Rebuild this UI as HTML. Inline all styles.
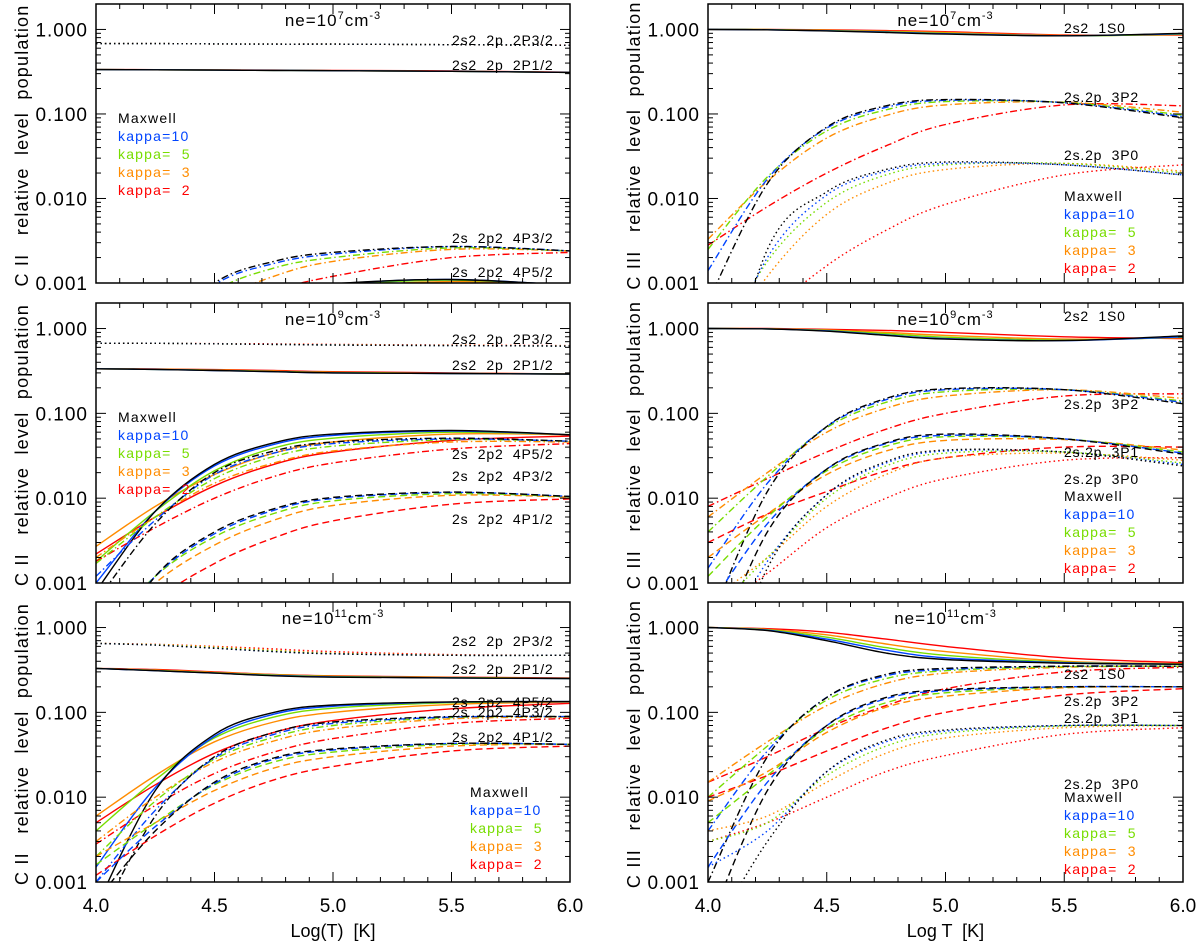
<!DOCTYPE html>
<html><head><meta charset="utf-8"><style>
body{margin:0;background:#fff}
svg{display:block;font-family:"Liberation Sans",sans-serif}
svg text{white-space:pre}
</style></head><body>
<svg id="fig" width="1200" height="942" viewBox="0 0 1200 942" xmlns="http://www.w3.org/2000/svg"></svg>
<script>
const logT = [4.0,4.25,4.5,4.75,5.0,5.5,6.0];
const seriesNames = ['Maxwell','kappa=10','kappa=  5','kappa=  3','kappa=  2'];
const yTickLabels = ['1.000','0.100','0.010','0.001'];
const yTickValues = [1,0.1,0.01,0.001];
const xTickLabels = ['4.0','4.5','5.0','5.5','6.0'];
const xTickValues = [4.0,4.5,5.0,5.5,6.0];

// values order: Maxwell, k10, k5, k3, k2
const p1_2P32 = [[0.68,0.68,0.675,0.67,0.67,0.66,0.65],[0.68,0.68,0.675,0.67,0.67,0.66,0.65],[0.68,0.68,0.675,0.67,0.67,0.66,0.65],[0.68,0.68,0.675,0.67,0.67,0.66,0.65],[0.68,0.68,0.675,0.67,0.67,0.66,0.652]];
const p1_2P12 = [[0.335,0.333,0.33,0.328,0.325,0.32,0.31],[0.335,0.333,0.33,0.328,0.325,0.32,0.31],[0.335,0.333,0.33,0.328,0.325,0.32,0.31],[0.335,0.333,0.33,0.328,0.325,0.32,0.31],[0.335,0.334,0.332,0.33,0.328,0.322,0.312]];
const p1_4P32 = [[1e-5,0.0002,0.001,0.0018,0.0023,0.0027,0.0024],[1e-5,0.0002,0.00095,0.0017,0.0022,0.0027,0.0024],[1e-5,0.0002,0.0008,0.0015,0.002,0.0026,0.0024],[1e-5,0.0002,0.0006,0.0012,0.0018,0.0025,0.0024],[1e-5,0.0001,0.0004,0.0008,0.0012,0.002,0.0023]];
const p1_4P52 = [[1e-5,1e-4,4e-4,8e-4,0.00098,0.0011,0.00094],[1e-5,1e-4,4e-4,7.8e-4,0.00097,0.0011,0.00094],[1e-5,1e-4,3.8e-4,7.4e-4,0.00094,0.00108,0.00094],[1e-5,1e-4,3.4e-4,6.6e-4,0.00088,0.00104,0.00095],[1e-5,1e-4,3e-4,5e-4,0.0007,0.00095,0.00095]];

const p2_2P32 = [[0.67,0.67,0.66,0.65,0.64,0.63,0.62],[0.67,0.67,0.66,0.65,0.64,0.63,0.62],[0.67,0.67,0.66,0.65,0.64,0.63,0.62],[0.67,0.67,0.66,0.65,0.645,0.635,0.625],[0.67,0.67,0.665,0.66,0.65,0.64,0.63]];
const p2_2P12 = [[0.335,0.33,0.32,0.31,0.3,0.295,0.29],[0.335,0.33,0.32,0.31,0.3,0.295,0.29],[0.335,0.33,0.322,0.312,0.302,0.296,0.29],[0.335,0.332,0.325,0.315,0.305,0.297,0.291],[0.335,0.333,0.328,0.32,0.31,0.3,0.292]];
const p2_4P52 = [[0.0008,0.007,0.025,0.045,0.057,0.063,0.056],[0.001,0.007,0.024,0.043,0.055,0.062,0.056],[0.0018,0.007,0.021,0.039,0.051,0.06,0.056],[0.0027,0.008,0.019,0.034,0.046,0.057,0.056],[0.0022,0.006,0.014,0.025,0.035,0.048,0.054]];
const p2_4P32 = [[0.0006,0.005,0.02,0.036,0.046,0.051,0.047],[0.0012,0.0055,0.019,0.034,0.044,0.05,0.047],[0.0017,0.006,0.017,0.031,0.041,0.049,0.047],[0.002,0.006,0.015,0.026,0.036,0.046,0.046],[0.0018,0.0045,0.01,0.018,0.026,0.038,0.044]];
const p2_4P12 = [[1e-4,0.0012,0.004,0.0075,0.0102,0.0118,0.0105],[1.5e-4,0.0012,0.0038,0.0072,0.0099,0.0117,0.0105],[2e-4,0.0012,0.0035,0.0066,0.0093,0.0113,0.0104],[2e-4,0.001,0.0028,0.0055,0.0082,0.0108,0.0103],[1e-4,0.0006,0.0017,0.0034,0.0054,0.0085,0.0098]];

const p3_2P32 = [[0.65,0.62,0.57,0.52,0.49,0.47,0.47],[0.65,0.62,0.57,0.52,0.49,0.47,0.47],[0.65,0.625,0.58,0.53,0.495,0.47,0.47],[0.65,0.63,0.59,0.54,0.5,0.475,0.47],[0.65,0.635,0.6,0.56,0.52,0.48,0.47]];
const p3_2P12 = [[0.33,0.31,0.29,0.27,0.26,0.255,0.25],[0.33,0.31,0.29,0.272,0.262,0.255,0.25],[0.33,0.312,0.293,0.275,0.264,0.256,0.251],[0.33,0.315,0.296,0.278,0.267,0.258,0.252],[0.33,0.32,0.3,0.28,0.27,0.26,0.255]];
const p3_4P52 = [[0.0005,0.012,0.055,0.1,0.122,0.133,0.134],[0.0015,0.013,0.052,0.095,0.118,0.132,0.134],[0.004,0.016,0.05,0.088,0.112,0.13,0.134],[0.006,0.018,0.045,0.077,0.1,0.124,0.132],[0.005,0.014,0.033,0.058,0.08,0.11,0.128]];
const p3_4P32 = [[0.0003,0.006,0.03,0.058,0.077,0.089,0.089],[0.001,0.007,0.029,0.055,0.074,0.088,0.089],[0.002,0.009,0.028,0.051,0.07,0.087,0.089],[0.003,0.01,0.026,0.046,0.064,0.084,0.088],[0.0028,0.008,0.019,0.034,0.049,0.074,0.085]];
const p3_4P12 = [[0.0006,0.004,0.015,0.029,0.037,0.043,0.042],[0.001,0.0045,0.0145,0.028,0.036,0.043,0.042],[0.0016,0.005,0.014,0.026,0.034,0.042,0.042],[0.002,0.005,0.012,0.022,0.03,0.04,0.042],[0.0012,0.0035,0.0085,0.016,0.023,0.035,0.04]];

const p4_1S0 = [[1.0,0.99,0.96,0.92,0.88,0.84,0.9],[1,0.99,0.965,0.93,0.89,0.84,0.89],[1,0.995,0.97,0.94,0.9,0.84,0.88],[1,0.995,0.98,0.95,0.92,0.85,0.87],[1,1,0.99,0.97,0.94,0.86,0.86]];
const p4_3P2 = [[0.0006,0.015,0.07,0.125,0.148,0.135,0.09],[0.0014,0.017,0.068,0.12,0.145,0.136,0.093],[0.0025,0.018,0.063,0.112,0.14,0.137,0.097],[0.0033,0.016,0.052,0.096,0.128,0.138,0.105],[0.0028,0.008,0.02,0.042,0.075,0.128,0.125]];
const p4_3P0 = [[1e-5,0.0025,0.012,0.022,0.027,0.025,0.019],[5e-5,0.002,0.011,0.021,0.026,0.025,0.019],[1e-4,0.0018,0.009,0.019,0.025,0.026,0.02],[1e-4,0.0012,0.0065,0.015,0.022,0.026,0.021],[5e-5,0.0004,0.0016,0.0042,0.0085,0.019,0.025]];

const p5_1S0 = [[1,0.99,0.93,0.83,0.75,0.72,0.82],[1,0.99,0.94,0.84,0.76,0.72,0.8],[1,0.99,0.95,0.87,0.79,0.73,0.79],[1,0.995,0.96,0.9,0.83,0.75,0.78],[1,1,0.98,0.95,0.9,0.8,0.76]];
const p5_3P2 = [[0.0003,0.012,0.07,0.15,0.195,0.19,0.13],[0.0015,0.015,0.07,0.145,0.19,0.19,0.135],[0.004,0.018,0.068,0.135,0.18,0.19,0.14],[0.006,0.02,0.06,0.115,0.16,0.19,0.15],[0.008,0.017,0.035,0.065,0.1,0.16,0.17]];
const p5_3P1 = [[1e-4,0.004,0.022,0.045,0.057,0.05,0.033],[5e-4,0.005,0.022,0.044,0.055,0.05,0.034],[0.0012,0.006,0.021,0.041,0.053,0.05,0.035],[0.002,0.0065,0.019,0.036,0.048,0.049,0.037],[0.003,0.0065,0.012,0.021,0.03,0.04,0.04]];
const p5_3P0 = [[2e-5,0.0015,0.011,0.027,0.037,0.035,0.024],[1e-4,0.0018,0.011,0.026,0.036,0.035,0.025],[4e-4,0.002,0.01,0.024,0.034,0.035,0.026],[6e-4,0.002,0.008,0.019,0.03,0.034,0.028],[4e-4,0.0013,0.0045,0.01,0.017,0.028,0.03]];

const p6_1S0 = [[1,0.92,0.7,0.5,0.42,0.38,0.37],[1,0.93,0.73,0.54,0.44,0.385,0.37],[1,0.94,0.77,0.58,0.47,0.39,0.37],[1,0.95,0.82,0.64,0.52,0.4,0.375],[1,0.97,0.88,0.73,0.6,0.44,0.385]];
const p6_3P2 = [[0.001,0.03,0.15,0.28,0.33,0.35,0.35],[0.004,0.035,0.15,0.27,0.32,0.35,0.35],[0.01,0.04,0.14,0.25,0.31,0.345,0.35],[0.015,0.045,0.12,0.22,0.29,0.34,0.35],[0.015,0.03,0.065,0.12,0.19,0.3,0.34]];
const p6_3P1 = [[3e-4,0.012,0.07,0.15,0.185,0.2,0.2],[0.0015,0.015,0.07,0.145,0.18,0.2,0.2],[0.005,0.018,0.065,0.13,0.17,0.198,0.2],[0.009,0.02,0.058,0.115,0.155,0.195,0.2],[0.01,0.018,0.035,0.065,0.1,0.16,0.19]];
const p6_3P0 = [[2e-4,0.003,0.02,0.047,0.062,0.07,0.07],[0.0015,0.004,0.02,0.045,0.06,0.07,0.07],[0.003,0.005,0.018,0.04,0.057,0.069,0.07],[0.004,0.006,0.015,0.033,0.05,0.066,0.07],[0.003,0.005,0.01,0.02,0.031,0.055,0.066]];

const COLORS = ['#000000','#0044ff','#77dd00','#ff8c00','#ff0000'];
const DASH = {solid:'', dashed:'7,4', dashdot:'7,3,1.5,3', dotted:'1.5,3'};
const NS = 'http://www.w3.org/2000/svg';
const svg = document.getElementById('fig');
function mk(tag, attrs, parent){const e=document.createElementNS(NS,tag);for(const k in attrs)e.setAttribute(k,attrs[k]);(parent||svg).appendChild(e);return e;}

const YMAX = 2, YMIN = 0.001;
const panels = [
 {id:'cii-1e7', x:96,y:4,w:474,h:279, ion:'C II', exp:'7', curves:[['2P3/2',p1_2P32,'dotted'],['2P1/2',p1_2P12,'solid'],['4P3/2',p1_4P32,'dashdot'],['4P5/2',p1_4P52,'solid']],
  labels:[['2s2  2p  2P3/2',452,45],['2s2  2p  2P1/2',452,70],['2s  2p2  4P3/2',452,243],['2s  2p2  4P5/2',452,277]], legend:[118,118]},
 {id:'cii-1e9', x:96,y:303,w:474,h:280, ion:'C II', exp:'9', curves:[['2P3/2',p2_2P32,'dotted'],['2P1/2',p2_2P12,'solid'],['4P5/2',p2_4P52,'solid'],['4P3/2',p2_4P32,'dashdot'],['4P1/2',p2_4P12,'dashed']],
  labels:[['2s2  2p  2P3/2',452,344],['2s2  2p  2P1/2',452,370],['2s  2p2  4P5/2',452,459],['2s  2p2  4P3/2',452,481],['2s  2p2  4P1/2',452,524]], legend:[118,417]},
 {id:'cii-1e11', x:96,y:602,w:474,h:280, ion:'C II', exp:'11', curves:[['2P3/2',p3_2P32,'dotted'],['2P1/2',p3_2P12,'solid'],['4P5/2',p3_4P52,'solid'],['4P3/2',p3_4P32,'dashdot'],['4P1/2',p3_4P12,'dashed']],
  labels:[['2s2  2p  2P3/2',452,646],['2s2  2p  2P1/2',452,674],['2s  2p2  4P5/2',452,707],['2s  2p2  4P3/2',452,717],['2s  2p2  4P1/2',452,742]], legend:[470,792]},
 {id:'ciii-1e7', x:708,y:4,w:475,h:279, ion:'C III', exp:'7', curves:[['1S0',p4_1S0,'solid'],['3P2',p4_3P2,'dashdot'],['3P0',p4_3P0,'dotted']],
  labels:[['2s2  1S0',1064,33],['2s.2p  3P2',1064,102],['2s.2p  3P0',1064,160]], legend:[1064,196]},
 {id:'ciii-1e9', x:708,y:303,w:475,h:280, ion:'C III', exp:'9', curves:[['1S0',p5_1S0,'solid'],['3P2',p5_3P2,'dashdot'],['3P1',p5_3P1,'dashed'],['3P0',p5_3P0,'dotted']],
  labels:[['2s2  1S0',1064,321],['2s.2p  3P2',1064,409],['2s.2p  3P1',1064,457],['2s.2p  3P0',1064,484]], legend:[1064,496]},
 {id:'ciii-1e11', x:708,y:602,w:475,h:280, ion:'C III', exp:'11', curves:[['1S0',p6_1S0,'solid'],['3P2',p6_3P2,'dashdot'],['3P1',p6_3P1,'dashed'],['3P0',p6_3P0,'dotted']],
  labels:[['2s2  1S0',1064,679],['2s.2p  3P2',1064,706],['2s.2p  3P1',1064,723],['2s.2p  3P0',1064,789]], legend:[1064,797]}
];

function smoothPath(pts){
  let d='M'+pts[0][0].toFixed(1)+','+pts[0][1].toFixed(1);
  for(let i=0;i<pts.length-1;i++){
    const p0=pts[Math.max(0,i-1)],p1=pts[i],p2=pts[i+1],p3=pts[Math.min(pts.length-1,i+2)];
    const c1=[p1[0]+(p2[0]-p0[0])/6,p1[1]+(p2[1]-p0[1])/6];
    const c2=[p2[0]-(p3[0]-p1[0])/6,p2[1]-(p3[1]-p1[1])/6];
    d+=' C'+c1[0].toFixed(1)+','+c1[1].toFixed(1)+' '+c2[0].toFixed(1)+','+c2[1].toFixed(1)+' '+p2[0].toFixed(1)+','+p2[1].toFixed(1);
  }
  return d;
}

panels.forEach((P,pi)=>{
  const xs = t => P.x + (t-4)/2*P.w;
  const ys = v => P.y + (Math.log10(YMAX)-Math.log10(v))/(Math.log10(YMAX)-Math.log10(YMIN))*P.h;
  const g = mk('g',{});
  
  
  const cp = mk('clipPath',{id:'clip'+pi},g);
  mk('rect',{x:P.x,y:P.y,width:P.w,height:P.h},cp);
  const cg = mk('g',{'clip-path':'url(#clip'+pi+')'},g);
  P.curves.forEach(c=>{
    for(let s=4;s>=0;s--){
      const pts = logT.map((t,i)=>[xs(t),ys(c[1][s][i])]);
      const path = mk('path',{d:smoothPath(pts),fill:'none',stroke:COLORS[s],'stroke-width':1.4,'stroke-dasharray':DASH[c[2]]},cg);
      
      
    }
  });
  const fr = mk('rect',{x:P.x,y:P.y,width:P.w,height:P.h,fill:'none',stroke:'#000','stroke-width':1.5},g);
  
  
  for(let k=0;k<=20;k++){
    const t=4+k*0.1, X=xs(t), L=(k%5===0)?10:5;
    mk('line',{x1:X,y1:P.y+P.h,x2:X,y2:P.y+P.h-L,stroke:'#000','stroke-width':1},g);
    mk('line',{x1:X,y1:P.y,x2:X,y2:P.y+L,stroke:'#000','stroke-width':1},g);
  }
  for(let e=-3;e<=0;e++){
    for(let m=1;m<=9;m++){
      const v=m*Math.pow(10,e); if(v>YMAX) continue;
      const Y=ys(v), L=(m===1)?10:5;
      mk('line',{x1:P.x,y1:Y,x2:P.x+L,y2:Y,stroke:'#000','stroke-width':1},g);
      mk('line',{x1:P.x+P.w,y1:Y,x2:P.x+P.w-L,y2:Y,stroke:'#000','stroke-width':1},g);
    }
  }
  yTickLabels.forEach((lab,i)=>{
    const t=mk('text',{x:P.x-8,y:ys(yTickValues[i])+7,'font-size':19,'letter-spacing':1,'text-anchor':'end',fill:'#000'},g);
    t.textContent=lab;
    
    
  });
  if(pi===2||pi===5){
    xTickLabels.forEach((lab,i)=>{
      const t=mk('text',{x:xs(xTickValues[i]),y:912,'font-size':19,'text-anchor':'middle',fill:'#000'},g);
      t.textContent=lab;
      
      
    });
    const at=mk('text',{x:P.x+P.w/2,y:937,'font-size':18,'text-anchor':'middle',fill:'#000'},g);
    at.textContent = pi===2 ? 'Log(T)  [K]' : 'Log T  [K]';
    
    
  }
  const yx = P.x-68, yc = P.y+P.h/2+2;
  const yt=mk('text',{x:yx,y:yc,'font-size':18,'letter-spacing':1.2,'text-anchor':'middle',fill:'#000',transform:'rotate(-90 '+yx+' '+yc+')'},g);
  yt.textContent = P.ion+'   relative  level  population';
  
  
  const tt=mk('text',{x:P.x+P.w/2,y:P.y+22,'font-size':17,'letter-spacing':1,'text-anchor':'middle',fill:'#000'},g);
  
  
  tt.innerHTML='ne=10<tspan dy="-7" font-size="11">'+P.exp+'</tspan><tspan dy="7">cm</tspan><tspan dy="-7" font-size="11">-3</tspan>';
  P.labels.forEach(l=>{
    const t=mk('text',{x:l[1],y:l[2],'font-size':14,'letter-spacing':0.8,fill:'#000'},g);
    t.textContent=l[0];
    
    
  });
  seriesNames.forEach((n,i)=>{
    const t=mk('text',{x:P.legend[0],y:P.legend[1]+5+i*18,'font-size':14,'letter-spacing':1.2,fill:COLORS[i]},g);
    t.textContent=n;
    
    
  });
});
</script>
</body></html>
